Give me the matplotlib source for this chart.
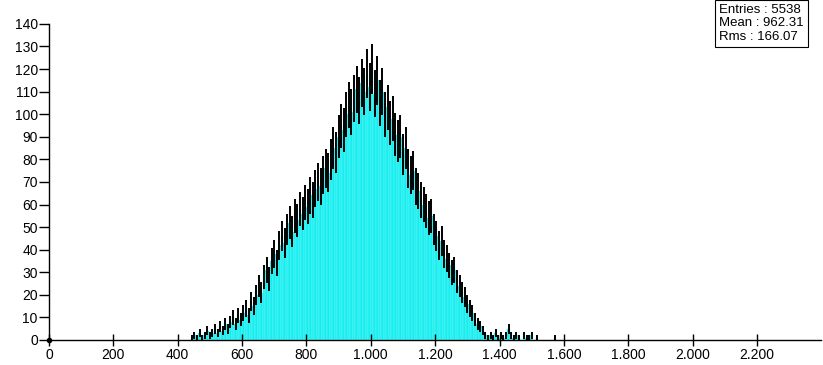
import numpy as np
import matplotlib.pyplot as plt

plt.rcParams['font.family'] = ['Liberation Sans', 'DejaVu Sans']

# histogram: 8-unit bins starting at 440
bin_start = 440
bin_width = 8
counts = [
    1, 2, 1, 3, 1, 2, 4, 2, 3, 5,             # 440-512
    3, 6, 4, 7, 5, 8, 10, 7, 11, 9,           # 520-592
    12, 14, 11, 17, 15, 20, 24, 21, 28, 31,   # 600-672
    27, 35, 38, 34, 42, 46, 43, 49, 52, 48,   # 680-752
    55, 53, 58, 56, 61, 59, 64, 62, 67, 70,   # 760-832
    68, 73, 76, 74, 80, 85, 83, 90, 95, 93,   # 840-912
    100, 104, 101, 107, 111, 106, 114, 110, 118, 112,  # 920-992
    120, 109, 115, 105, 110, 100, 103, 96, 98, 91,     # 1000-1072
    88, 90, 82, 85, 76, 73, 75, 68, 66, 62,   # 1080-1152
    60, 57, 54, 55, 49, 46, 42, 44, 38, 36,   # 1160-1232
    33, 30, 31, 26, 24, 21, 19, 16, 14, 12,   # 1240-1312
    9, 7, 6, 4, 2, 1, 2, 1, 3, 1,             # 1320-1392
    2, 1, 2, 5, 2, 1, 2, 1, 0, 2,             # 1400-1472
    1, 1, 2, 0, 1, 0, 0, 0, 0, 0,             # 1480-1552
    0, 1,                                     # 1560-1568
]

entries = 5538
mean = 962.31
rms = 166.07

x_ticks = [0, 200, 400, 600, 800, 1000, 1200, 1400, 1600, 1800, 2000, 2200]
y_ticks = list(range(0, 141, 10))

edges = bin_start + bin_width * np.arange(len(counts))
heights = np.array(counts, dtype=float)
mask = heights > 0

fig = plt.figure(figsize=(8.23, 3.65), dpi=100)
ax = fig.add_axes([0.0595, 0.0685, 0.9385, 0.866])

ax.bar(edges[mask], heights[mask], width=bin_width, align='edge',
       color='#14eef0', edgecolor='#7ff5f5', linewidth=0.3)
err = np.sqrt(heights[mask])
ax.vlines(edges[mask] + bin_width / 2, heights[mask] - err, heights[mask] + err,
          color='black', linewidth=1.4)
ax.plot([0], [0], 'o', color='black', markersize=3, clip_on=False)

ax.set_xlim(0, 2400)
ax.set_ylim(0, 140)
ax.set_xticks(x_ticks)
ax.set_xticklabels([f'{v:,}'.replace(',', '.') for v in x_ticks])
ax.set_yticks(y_ticks)

for side in ['top', 'right']:
    ax.spines[side].set_visible(False)
for side in ['left', 'bottom']:
    ax.spines[side].set_linewidth(1.0)
ax.tick_params(axis='x', direction='inout', length=9, width=1, labelsize=10, pad=1)
ax.tick_params(axis='y', direction='out', length=7, width=1, labelsize=10, pad=1)

ax.text(0.874, 0.99, f'Entries : {entries}\nMean : {mean:.2f}\nRms : {rms:.2f}',
        transform=fig.transFigure, ha='left', va='top', fontsize=9.5,
        linespacing=1.2,
        bbox=dict(boxstyle='square,pad=0.3', facecolor='white',
                  edgecolor='black', linewidth=0.8))

fig.savefig('out.png', dpi=100)
